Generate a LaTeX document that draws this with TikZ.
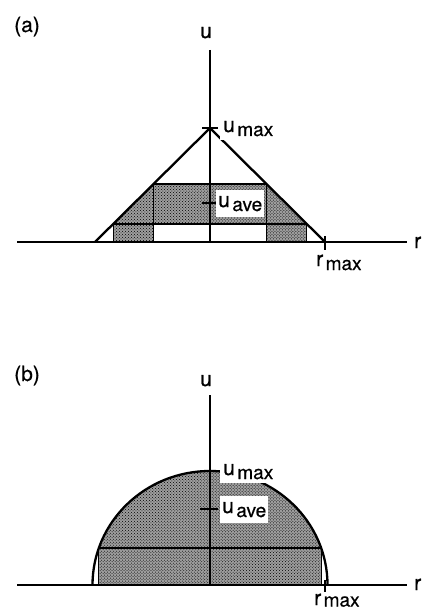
\documentclass[tikz,border=0pt]{standalone}
\usepackage{fontspec}
\setmainfont{TeX Gyre Heros}[FakeBold=0.6]
\usetikzlibrary{patterns}
\newcommand{\mainsz}{\fontsize{21bp}{21bp}\selectfont}
\newcommand{\subsz}{\fontsize{19bp}{19bp}\selectfont}
\newcommand{\ulab}[2]{{\mainsz #1}\hspace{2.5bp}\raisebox{-4bp}{\subsz #2}}
\begin{document}
\begin{tikzpicture}[x=1bp,y=-1bp,
  axisline/.style={line width=2bp},
  curveline/.style={line width=2.3bp},
  bandline/.style={line width=2bp},
  thinline/.style={line width=1.1bp},
  shade/.style={fill=black!38, postaction={pattern=crosshatch dots, pattern color=black}},
  lbl/.style={inner sep=0pt, anchor=base west, font=\mainsz},
  wlbl/.style={fill=white, inner xsep=3bp, inner ysep=4bp, anchor=base west}]
\useasboundingbox (0,0) rectangle (423,611);
% ---------------- panel (a)
\coordinate (aO) at (210,242);
\coordinate (aL) at (17,242);
\coordinate (aR) at (407,242);
\coordinate (aT) at (210,50);
\coordinate (aA) at (95,242);
\coordinate (aM) at (210,128);
\coordinate (aB) at (325,242);
\coordinate (p1) at (153.5,184);
\coordinate (p2) at (266.5,184);
\coordinate (p3) at (113.2,224);
\coordinate (p4) at (306.8,224);
\coordinate (p5) at (113.2,242);
\coordinate (p6) at (153.5,242);
\coordinate (p7) at (266.5,242);
\coordinate (p8) at (306.8,242);
\coordinate (p9) at (153.5,224);
\coordinate (p10) at (266.5,224);
\fill[shade] (p1) -- (p2) -- (p4) -- (p3) -- cycle;
\fill[shade] (p3) -- (p9) -- (p6) -- (p5) -- cycle;
\fill[shade] (p10) -- (p4) -- (p8) -- (p7) -- cycle;
\draw[bandline] (p1) -- (p2);
\draw[bandline] (p3) -- (p4);
\draw[thinline] (p1) -- (p6);
\draw[thinline] (p2) -- (p7);
\draw[thinline] (p3) -- (p5);
\draw[thinline] (p4) -- (p8);
\draw[axisline] (aL) -- (aR);
\draw[axisline] (aT) -- (aO);
\draw[curveline, line join=miter] (aA) -- (aM) -- (aB);
\coordinate (amt1) at (202,128); \coordinate (amt2) at (218,128);
\coordinate (aat1) at (202,203); \coordinate (aat2) at (218,203);
\coordinate (art1) at (325,236); \coordinate (art2) at (325,250);
\draw[axisline] (amt1) -- (amt2);
\draw[axisline] (aat1) -- (aat2);
\draw[axisline] (art1) -- (art2);
\node[lbl] (alab) at (14,32) {(a)};
\node[lbl, anchor=base] (au) at (206,38) {u};
\node[wlbl] (aumax) at (220,132) {\ulab{u}{max}};
\node[wlbl, inner ysep=6bp, inner xsep=2bp] (auave) at (216,207) {\ulab{u}{ave}};
\node[lbl] (ar) at (414,248) {r};
\node[lbl] (armax) at (316,266) {\ulab{r}{max}};
% ---------------- panel (b)
\coordinate (bO) at (210,585);
\coordinate (bL) at (17,585);
\coordinate (bR) at (407,585);
\coordinate (bT) at (210,395);
\coordinate (bA) at (92.5,585);
\coordinate (q1) at (98.86,548);
\coordinate (q2) at (321.14,548);
\coordinate (q3) at (98.86,585);
\coordinate (q4) at (321.14,585);
\fill[shade] (q1) arc[start angle=161.06, end angle=18.94, x radius=117.5bp, y radius=114bp] -- (q4) -- (q3) -- cycle;
\draw[bandline] (q1) -- (q2);
\draw[thinline] (q1) -- (q3);
\draw[thinline] (q2) -- (q4);
\draw[axisline] (bL) -- (bR);
\draw[axisline] (bT) -- (bO);
\draw[curveline] (bA) arc[start angle=180, end angle=0, x radius=117.5bp, y radius=114bp];
\coordinate (bmt1) at (204,471); \coordinate (bmt2) at (218,471);
\coordinate (bat1) at (200,509); \coordinate (bat2) at (218,509);
\coordinate (brt1) at (325,580); \coordinate (brt2) at (325,592);
\draw[axisline] (bmt1) -- (bmt2);
\draw[axisline] (bat1) -- (bat2);
\draw[axisline] (brt1) -- (brt2);
\node[lbl] (blab) at (14,381) {(b)};
\node[lbl, anchor=base] (bu) at (206,386) {u};
\node[wlbl] (bumax) at (220,475) {\ulab{u}{max}};
\node[wlbl, inner ysep=6bp, inner xsep=2bp] (buave) at (220,513) {\ulab{u}{ave}};
\node[lbl] (br) at (414,590) {r};
\node[lbl] (brmax) at (314,605) {{\mainsz r}\hspace{2.5bp}\raisebox{-1.5bp}{\subsz max}};
\end{tikzpicture}
\end{document}
